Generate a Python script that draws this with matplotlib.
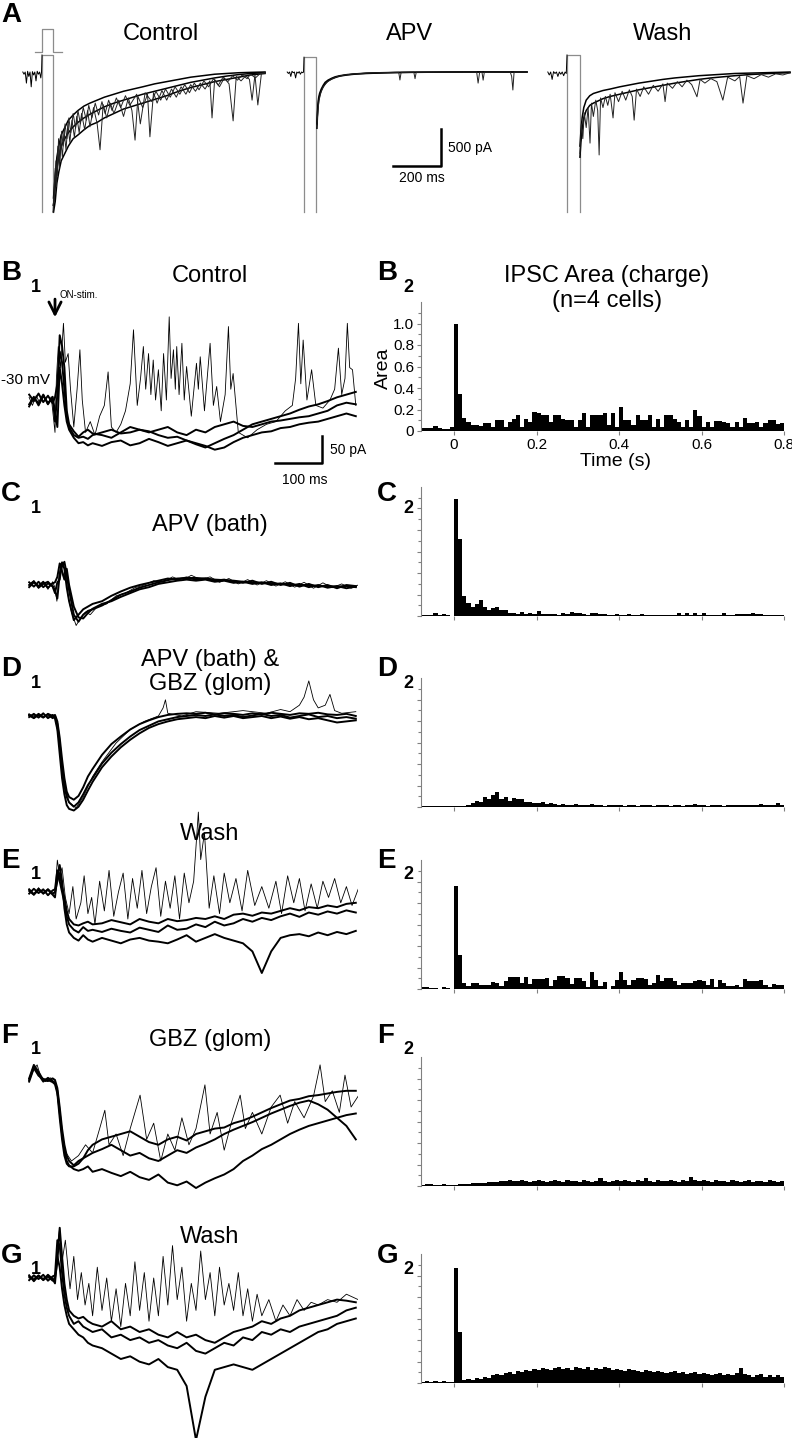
import matplotlib
matplotlib.use('Agg')
import matplotlib.pyplot as plt
import numpy as np

plt.rcParams['font.family'] = ['Liberation Sans', 'DejaVu Sans']

# ---------------- panel A: evoked currents (ms, pA) ----------------
ctrl_pre = [(-80, 0), (-75, -30), (-70, 0), (-65, -150), (-60, 10), (-55, -60), (-50, 0), (-45, -200),
            (-40, 5), (-35, -40), (-30, 0), (-25, -120), (-20, 10), (-15, -30), (-10, 0), (-5, -80),
            (-2, 0), (0, 230)]
ctrl_t = [48, 55, 62, 70, 80, 95, 110, 130, 150, 175, 200, 230, 260, 300, 340, 380, 420, 470, 520,
          570, 620, 670, 720, 770, 820, 870, 930]
ctrl_s1 = [-1890, -1750, -1500, -1350, -1200, -1100, -1000, -900, -850, -780, -720, -680, -620, -560,
           -500, -460, -420, -370, -320, -260, -210, -170, -130, -100, -70, -40, -20]
ctrl_s2 = [-1700, -1400, -1150, -1000, -850, -750, -650, -580, -520, -460, -420, -380, -340, -300,
           -260, -230, -200, -160, -130, -100, -70, -50, -30, -20, -10, -5, 0]
ctrl_s3 = [-1800, -1550, -1300, -1150, -1000, -900, -820, -740, -680, -620, -570, -520, -470, -420,
           -380, -340, -300, -260, -220, -180, -140, -110, -80, -55, -35, -20, -8]
ctrl_fast1 = [(46, -1890), (55, -1300), (60, -1550), (66, -1000), (72, -1300), (78, -900), (85, -1150),
              (92, -800), (100, -1050), (108, -700), (116, -950), (125, -650), (135, -880), (145, -600),
              (155, -820), (165, -560), (178, -780), (190, -520), (200, -740), (215, -480), (230, -700),
              (242, -1050), (255, -440), (270, -620), (285, -420), (300, -560), (320, -380), (340, -600),
              (360, -350), (375, -520), (388, -920), (400, -330), (420, -480), (440, -300), (450, -875),
              (465, -280), (480, -420), (500, -250), (520, -380), (540, -230), (560, -340), (580, -200),
              (600, -300), (620, -170), (640, -260), (660, -150), (680, -230), (700, -120), (709, -620),
              (720, -100), (740, -200), (760, -80), (780, -160), (797, -660), (810, -60), (830, -120),
              (850, -50), (865, -100), (876, -380), (888, -40), (900, -445), (915, -20), (930, -10)]
ctrl_fast2 = [(46, -1800), (52, -1700), (58, -1200), (64, -1400), (69, -900), (75, -1200), (82, -800),
              (88, -1000), (96, -700), (104, -900), (112, -620), (120, -820), (130, -560), (140, -760),
              (150, -520), (160, -700), (172, -480), (185, -650), (195, -450), (208, -620), (222, -420),
              (236, -580), (250, -400), (263, -560), (278, -380), (292, -520), (310, -350), (328, -480),
              (348, -320), (366, -450), (395, -300), (410, -700), (430, -280), (458, -400), (475, -260),
              (495, -380), (515, -230), (535, -340), (555, -200), (575, -300), (595, -170), (615, -280),
              (635, -150), (655, -240), (675, -120), (695, -200), (715, -90), (735, -180), (755, -70),
              (775, -130), (795, -50), (815, -110), (835, -40), (855, -90), (870, -30), (890, -80),
              (910, -20), (930, -15)]

apv_pre = [(-70, 0), (-65, -20), (-60, 0), (-55, -60), (-50, 10), (-45, -10), (-40, 0), (-35, -80),
           (-30, 0), (-25, -15), (-20, 5), (-15, -30), (-10, 0), (-5, -10), (-2, 0), (0, 200)]
apv_t = [54, 56, 58, 61, 65, 72, 80, 88, 100, 115, 130, 150, 180, 215, 260, 320, 380, 450, 520, 600,
         680, 760, 840, 930]
apv_s1 = [-760, -600, -480, -380, -320, -250, -200, -160, -120, -95, -75, -55, -40, -28, -20, -13, -8,
          -5, -3, -2, 0, 0, 0, 0]
apv_s2 = [-700, -560, -440, -350, -290, -230, -180, -140, -110, -85, -65, -50, -35, -25, -16, -10, -6,
          -3, -2, 0, 0, 2, 0, 0]
apv_fast = [(54, -720), (58, -520), (63, -380), (70, -280), (80, -200), (95, -140), (115, -95),
            (140, -60), (170, -40), (210, -25), (260, -15), (320, -8), (395, -5), (400, -108), (405, -5),
            (458, -3), (463, -90), (468, -3), (600, -2), (720, 0), (726, -150), (732, -10), (742, 0),
            (747, -110), (752, 0), (860, 0), (866, -60), (871, -243), (876, 0), (930, 0)]

wash_pre = [(-80, 0), (-74, -40), (-68, 0), (-62, -100), (-56, 5), (-50, -20), (-44, 0), (-38, -60),
            (-32, 0), (-26, -30), (-20, 0), (-14, -50), (-8, 0), (-3, -20), (0, 230)]
wash_t = [54, 58, 63, 70, 80, 95, 110, 130, 150, 180, 220, 260, 300, 350, 400, 450, 500, 550, 600, 650,
          700, 760, 820, 880, 930]
wash_s1 = [-1150, -950, -780, -620, -520, -450, -420, -390, -360, -330, -300, -270, -240, -210, -180,
           -150, -125, -100, -80, -65, -50, -35, -25, -15, -10]
wash_s2 = [-1000, -800, -620, -480, -380, -320, -290, -270, -250, -230, -200, -175, -150, -125, -100,
           -80, -65, -50, -40, -30, -20, -15, -10, -5, 0]
wash_fast = [(54, -1100), (60, -700), (66, -900), (72, -550), (80, -750), (88, -480), (96, -960),
             (102, -420), (110, -600), (120, -380), (128, -520), (134, -1120), (140, -350), (150, -480),
             (160, -330), (170, -450), (180, -300), (192, -620), (200, -280), (215, -400), (230, -260),
             (245, -380), (260, -240), (272, -330), (280, -650), (290, -230), (305, -330), (320, -200),
             (340, -300), (360, -180), (380, -260), (400, -160), (409, -400), (418, -150), (440, -220),
             (460, -130), (480, -200), (500, -110), (520, -170), (542, -335), (555, -100), (575, -150),
             (600, -90), (625, -130), (650, -380), (670, -70), (700, -120), (720, -60), (734, -420),
             (750, -50), (780, -90), (810, -35), (840, -70), (870, -25), (900, -40), (930, -10)]

# stimulus artifact (duration ms, top pA) per condition
art_dur = [46, 50, 54]
art_top = [230, 200, 230]
art_bot = -1890

# ---------------- panels B1-G1: spontaneous currents (ms, pA) ----------------
tb = [-55, -45, -35, -25, -15, -5, 0, 5, 10, 15, 20, 25, 30, 40, 50, 60, 70, 80, 100, 120, 140, 160,
      180, 200, 220, 240, 260, 280, 300, 320, 340, 360, 380, 400, 420, 440, 460, 480, 500, 520, 540,
      560, 580, 600, 620, 640]

b1_s1 = [-8, 6, -10, 8, -6, 4, -20, -50, 60, 30, -10, -40, -55, -70, -80, -78, -84, -80,
         -85, -78, -75, -84, -80, -72, -78, -85, -80, -75, -82, -88, -80, -72, -65, -55, -45, -40,
         -35, -30, -25, -18, -12, -8, -2, 5, 10, 15]
b1_s2 = [10, -2, 12, -4, 8, -6, 5, 30, 90, 70, 20, -30, -50, -65, -70, -68, -72, -65,
         -60, -55, -62, -60, -55, -58, -65, -70, -68, -75, -80, -85, -92, -88, -78, -70, -65, -60,
         -58, -52, -50, -45, -42, -40, -35, -30, -25, -30]
b1_s3 = [-12, 4, -6, 10, -8, 6, -40, 10, 120, 100, 60, -20, -45, -58, -68, -60, -55, -62,
         -65, -70, -60, -50, -55, -60, -55, -50, -60, -65, -55, -60, -50, -45, -40, -48, -50, -45,
         -40, -38, -35, -32, -30, -25, -20, -10, -5, -8]
b1_fast = [(-55, 5), (-48, -10), (-40, 8), (-32, -6), (-24, 10), (-16, -8), (-8, 6), (0, -60), (3, 40),
           (7, 99), (12, 60), (18, 142), (22, 70), (28, 86), (33, 20), (40, -50), (47, 20), (53, 93),
           (58, 0), (65, -60), (75, -40), (85, -65), (95, -30), (105, -10), (113, 52), (120, -50),
           (130, -60), (140, -45), (150, -20), (160, 30), (167, 130), (175, -10), (182, 40), (188, 99),
           (193, 20), (199, 86), (204, 10), (209, 74), (214, 0), (220, 56), (226, -20), (231, 86),
           (237, 0), (243, 154), (247, 40), (252, 93), (256, 20), (259, 99), (264, 10), (270, 105),
           (275, 0), (280, 62), (290, -30), (301, 68), (305, 20), (309, 80), (318, -20), (330, 105),
           (337, -10), (344, 25), (352, -40), (362, 10), (369, 136), (374, 20), (379, 49), (390, -60),
           (410, -70), (430, -55), (450, -45), (470, -40), (490, -20), (505, -10), (512, 40), (518, 142),
           (523, 30), (528, 111), (536, 0), (546, 56), (555, -10), (570, -15), (585, 0), (595, 20),
           (603, 96), (610, 10), (617, 40), (622, 142), (627, 60), (633, 56), (640, -10)]

c1_s1 = [5, -3, 6, -4, 3, -2, -10, -25, 20, 35, 43, 20, -10, -55, -68, -55, -48, -45,
         -38, -28, -18, -12, -5, 0, 5, 9, 12, 13, 13, 12, 10, 9, 8, 6, 5, 4,
         3, 2, 1, 0, 0, -2, -2, -3, -2, -4]
c1_s2 = [-4, 5, -2, 6, -5, 3, 5, 15, 40, 25, 10, 30, 0, -40, -60, -62, -52, -44,
         -35, -30, -22, -15, -8, -4, 2, 5, 8, 10, 8, 10, 6, 8, 4, 6, 2, 5,
         0, 3, -2, 2, -4, 0, -5, -2, -6, -3]
c1_s3 = [0, 7, -5, 2, 6, -3, -15, 5, 10, 42, 30, -5, -30, -65, -55, -45, -40, -35,
         -30, -20, -12, -5, 0, 4, 8, 12, 10, 14, 10, 12, 8, 10, 6, 4, 8, 2,
         6, 0, 4, -3, 2, -4, 0, -6, 0, -2]
c1_fast = [(-55, 0), (-45, 8), (-35, -6), (-25, 5), (-15, -8), (-5, 6), (0, -5), (4, -30), (8, 10),
           (12, 40), (18, 15), (22, 35), (28, -20), (35, -50), (45, -75), (55, -60), (65, -50), (75, -55),
           (90, -40), (110, -35), (130, -20), (150, -15), (170, -5), (190, 0), (210, 8), (230, 5),
           (250, 15), (270, 8), (290, 18), (310, 10), (330, 15), (350, 5), (370, 12), (390, 2), (410, 10),
           (430, 0), (450, 8), (470, -2), (490, 6), (510, -4), (530, 5), (550, -6), (570, 4), (590, -5),
           (610, 2), (630, -6), (645, 0)]

d1_s1 = [3, -3, 4, -2, 3, -4, 0, -15, -50, -95, -130, -150, -160, -168, -160, -145, -128, -115,
         -88, -68, -52, -38, -26, -18, -10, -6, -2, 0, 2, 0, 3, 0, 2, -2, 1, 4,
         0, 2, -3, 0, 3, -2, 0, -4, -2, -5]
d1_s2 = [-2, 4, -3, 5, -4, 2, -5, -25, -70, -115, -145, -165, -172, -175, -168, -155, -138, -122,
         -95, -75, -58, -44, -32, -22, -15, -10, -6, -4, -2, -4, 0, -3, 0, -4, -2, 0,
         -4, -1, -5, -2, -6, -4, -8, -12, -10, -8]
d1_s3 = [1, -4, 2, -3, 4, 0, 2, -10, -40, -80, -115, -140, -150, -155, -148, -132, -112, -98,
         -72, -52, -38, -25, -15, -8, -2, 2, 4, 5, 4, 6, 3, 5, 4, 2, 5, 3,
         6, 4, 2, 5, 4, 6, 3, 2, 4, 0]
d1_fast = [(-55, 2), (-5, -2), (0, 0), (10, -55), (20, -125), (30, -160), (45, -170), (60, -150),
           (80, -112), (100, -85), (130, -50), (160, -25), (190, -10), (220, 0), (230, 15), (235, 30),
           (240, 5), (270, 0), (300, 8), (350, 5), (400, 10), (450, 5), (480, 12), (500, 8), (520, 20),
           (530, 35), (540, 65), (550, 30), (560, 15), (575, 20), (585, 40), (595, 10), (610, 5), (640, 8)]

e1_s1 = [5, -4, 6, -3, 4, -5, -10, 30, 50, 20, -30, -60, -75, -85, -90, -80, -88, -92,
         -85, -90, -95, -88, -85, -90, -92, -95, -88, -80, -92, -85, -78, -85, -90, -95, -110, -150,
         -110, -85, -80, -78, -82, -75, -80, -74, -78, -72]
e1_s2 = [-3, 6, -2, 5, -6, 3, 5, 40, 20, 0, -20, -45, -60, -70, -75, -65, -72, -70,
         -74, -68, -72, -75, -66, -70, -74, -62, -70, -68, -60, -65, -55, -62, -58, -50, -55, -48,
         -52, -45, -40, -46, -38, -42, -36, -40, -34, -38]
e1_s3 = [2, -5, 4, -2, 5, -3, 0, 20, 35, 10, -10, -35, -50, -60, -62, -58, -55, -60,
         -58, -52, -56, -60, -50, -55, -58, -50, -54, -52, -48, -50, -45, -50, -42, -40, -44, -38,
         -40, -35, -30, -34, -28, -30, -25, -28, -22, -20]
e1_fast = [(-55, 5), (-45, -6), (-35, 8), (-25, -4), (-15, 6), (-5, -5), (0, 0), (5, 59), (10, 30),
           (15, 45), (22, -10), (30, -40), (38, 10), (45, -50), (55, -20), (62, 30), (70, -40), (78, -10),
           (85, -60), (95, 20), (105, -35), (115, 40), (125, -45), (135, 0), (145, 35), (155, -50),
           (165, 25), (175, -30), (185, 40), (195, -40), (205, 10), (215, 45), (225, -45), (235, 20),
           (245, -30), (255, 30), (265, -50), (275, 35), (285, -20), (295, 20), (305, 148), (310, 60),
           (318, 110), (328, -30), (338, 30), (350, -40), (360, 35), (372, -20), (385, 25), (398, -35),
           (410, 40), (425, -25), (440, 10), (455, -30), (470, 20), (482, -40), (495, 30), (508, -20),
           (520, 25), (532, -35), (545, 15), (558, -30), (570, 20), (582, -10), (595, 25), (608, -20),
           (620, 10), (632, -25), (645, 5)]

f1_s1 = [0, 25, 10, -3, 4, -2, -5, -20, -60, -100, -130, -150, -158, -165, -168, -165, -160, -170,
         -165, -172, -178, -170, -180, -185, -175, -190, -195, -188, -200, -190, -182, -175, -165, -150,
         -140, -128, -120, -110, -100, -92, -85, -80, -75, -70, -65, -62]
f1_s2 = [3, 28, 15, 0, -2, 3, 0, -15, -50, -90, -120, -140, -150, -158, -150, -145, -140, -135,
         -128, -120, -130, -140, -135, -145, -150, -140, -130, -135, -125, -118, -110, -100, -92, -85,
         -78, -70, -62, -55, -48, -42, -38, -45, -55, -70, -85, -110]
f1_s3 = [-3, 22, 8, 2, 0, -4, -8, -25, -70, -110, -140, -155, -160, -160, -155, -145, -130, -120,
         -110, -105, -100, -95, -105, -115, -120, -110, -105, -112, -100, -95, -90, -88, -80, -75,
         -68, -60, -52, -45, -38, -35, -30, -28, -25, -22, -20, -20]
f1_fast = [(-55, 0), (-45, 20), (-38, 28), (-30, 5), (-20, -3), (-10, 4), (0, 0), (10, -60), (20, -130),
           (35, -150), (50, -140), (65, -120), (80, -135), (95, -90), (106, -56), (115, -120), (130, -100),
           (145, -140), (160, -90), (181, -28), (195, -110), (210, -80), (225, -150), (240, -100),
           (255, -130), (270, -70), (285, -120), (300, -90), (319, -9), (330, -100), (345, -60), (360, -130),
           (375, -80), (394, -28), (405, -90), (420, -60), (440, -100), (460, -50), (479, -28), (495, -80),
           (510, -40), (530, -70), (550, -30), (564, 28), (575, -40), (590, -20), (605, -60), (617, 9),
           (630, -50), (645, -30)]

g1_s1 = [5, -6, 4, -3, 6, -2, -10, 40, 20, -20, -50, -70, -85, -95, -105, -110, -120, -125,
         -130, -140, -150, -145, -155, -160, -150, -165, -170, -200, -300, -220, -170, -165, -160, -165,
         -170, -160, -150, -140, -130, -120, -110, -100, -95, -85, -80, -75]
g1_s2 = [-4, 5, -2, 6, -5, 3, 5, 70, 60, 10, -30, -55, -70, -85, -80, -90, -95, -100,
         -95, -110, -105, -115, -110, -120, -115, -125, -130, -120, -135, -140, -130, -120, -125, -110,
         -115, -100, -105, -95, -100, -90, -85, -80, -75, -70, -60, -55]
g1_s3 = [2, -3, 5, -4, 3, -5, 0, 30, 93, 40, -10, -40, -60, -70, -75, -72, -80, -85,
         -90, -80, -95, -90, -100, -95, -105, -110, -100, -110, -105, -115, -120, -110, -100, -95,
         -90, -80, -85, -75, -70, -60, -55, -50, -45, -40, -42, -45]
g1_fast = [(-55, 0), (0, 0), (5, 60), (10, 93), (15, 30), (22, 70), (32, -20), (40, 40), (48, -40),
           (56, 10), (64, -50), (72, -10), (80, -70), (90, 20), (100, -60), (110, 0), (120, -80),
           (130, -20), (140, -90), (150, -10), (160, -70), (170, 30), (180, -60), (190, 10), (200, -80),
           (210, 0), (220, -70), (230, 40), (240, -50), (250, 60), (260, -40), (270, 20), (280, -80),
           (290, -10), (300, -60), (310, 50), (320, -40), (330, 10), (340, -70), (350, 20), (360, -50),
           (370, -10), (380, -60), (390, 10), (400, -70), (410, -20), (420, -80), (430, -30), (440, -70),
           (455, -40), (470, -80), (485, -50), (500, -70), (515, -40), (530, -60), (545, -45), (560, -50),
           (580, -40), (600, -45), (620, -30), (645, -40)]

# ---------------- panels B2-G2: IPSC area histograms (10 ms bins) ----------------
bin_left = np.round(np.arange(-0.08, 0.795, 0.01), 3)
b2_area = [0.025, 0.03, 0.03, 0.05, 0.025, 0.015, 0.015, 0.04,
           1.0, 0.34, 0.12, 0.08, 0.055, 0.055, 0.05, 0.075, 0.075, 0.04,
           0.1, 0.1, 0.04, 0.08, 0.11, 0.145, 0.04, 0.11, 0.08, 0.18,
           0.17, 0.145, 0.145, 0.08, 0.15, 0.145, 0.11, 0.1, 0.1, 0.04,
           0.1, 0.17, 0.04, 0.145, 0.145, 0.145, 0.165, 0.055, 0.17, 0.04,
           0.22, 0.1, 0.1, 0.055, 0.15, 0.1, 0.1, 0.145, 0.04, 0.11,
           0.04, 0.145, 0.145, 0.11, 0.08, 0.04, 0.1, 0.04, 0.195, 0.135,
           0.04, 0.085, 0.04, 0.09, 0.09, 0.08, 0.07, 0.04, 0.08, 0.04,
           0.12, 0.07, 0.07, 0.08, 0.04, 0.07, 0.1, 0.1, 0.065, 0.07]
c2_area = [0.01, 0.01, 0.01, 0.03, 0.005, 0.02, 0.01, 0.0,
           1.09, 0.72, 0.19, 0.12, 0.08, 0.11, 0.145, 0.08, 0.055, 0.07,
           0.085, 0.06, 0.06, 0.03, 0.03, 0.015, 0.04, 0.015, 0.025, 0.015,
           0.045, 0.015, 0.015, 0.015, 0.015, 0.01, 0.025, 0.015, 0.035, 0.03,
           0.025, 0.015, 0.01, 0.025, 0.025, 0.015, 0.02, 0.01, 0.01, 0.02,
           0.01, 0.01, 0.02, 0.01, 0.01, 0.02, 0.01, 0.01, 0.01, 0.01,
           0.01, 0.01, 0.01, 0.005, 0.025, 0.01, 0.025, 0.01, 0.03, 0.01,
           0.03, 0.01, 0.01, 0.01, 0.01, 0.025, 0.01, 0.01, 0.015, 0.015,
           0.02, 0.02, 0.03, 0.02, 0.015, 0.01, 0.01, 0.005, 0.01, 0.01]
d2_area = [0.005, 0.005, 0.005, 0.005, 0.005, 0.005, 0.005, 0.005,
           0.01, 0.01, 0.01, 0.02, 0.04, 0.06, 0.05, 0.09, 0.07, 0.11,
           0.14, 0.07, 0.09, 0.06, 0.08, 0.07, 0.07, 0.05, 0.05, 0.04,
           0.04, 0.05, 0.03, 0.04, 0.03, 0.02, 0.03, 0.02, 0.02, 0.03,
           0.02, 0.02, 0.02, 0.03, 0.02, 0.02, 0.01, 0.02, 0.02, 0.02,
           0.02, 0.01, 0.02, 0.02, 0.01, 0.02, 0.02, 0.02, 0.01, 0.02,
           0.02, 0.02, 0.01, 0.02, 0.02, 0.01, 0.02, 0.02, 0.03, 0.02,
           0.02, 0.01, 0.02, 0.02, 0.02, 0.01, 0.02, 0.02, 0.02, 0.02,
           0.02, 0.02, 0.02, 0.02, 0.03, 0.02, 0.02, 0.02, 0.04, 0.02]
e2_area = [0.015, 0.015, 0.01, 0.005, 0.0, 0.015, 0.005, 0.0,
           0.96, 0.32, 0.06, 0.03, 0.055, 0.055, 0.04, 0.04, 0.04, 0.065,
           0.055, 0.03, 0.07, 0.11, 0.11, 0.11, 0.055, 0.11, 0.05, 0.09,
           0.09, 0.09, 0.1, 0.03, 0.08, 0.12, 0.12, 0.1, 0.05, 0.1,
           0.1, 0.07, 0.02, 0.16, 0.08, 0.03, 0.065, 0.0, 0.03, 0.085,
           0.16, 0.08, 0.04, 0.08, 0.1, 0.1, 0.09, 0.04, 0.06, 0.13,
           0.07, 0.1, 0.1, 0.07, 0.04, 0.06, 0.06, 0.06, 0.07, 0.08,
           0.07, 0.04, 0.09, 0.02, 0.08, 0.06, 0.03, 0.03, 0.04, 0.02,
           0.09, 0.07, 0.07, 0.07, 0.08, 0.04, 0.02, 0.05, 0.04, 0.04]
f2_area = [0.01, 0.015, 0.015, 0.01, 0.01, 0.015, 0.01, 0.01,
           0.01, 0.015, 0.02, 0.02, 0.025, 0.03, 0.03, 0.03, 0.035, 0.04,
           0.04, 0.05, 0.05, 0.06, 0.05, 0.05, 0.06, 0.05, 0.04, 0.05,
           0.06, 0.05, 0.04, 0.05, 0.06, 0.05, 0.04, 0.06, 0.05, 0.05,
           0.04, 0.06, 0.05, 0.04, 0.05, 0.07, 0.05, 0.04, 0.05, 0.06,
           0.05, 0.06, 0.05, 0.04, 0.06, 0.05, 0.07, 0.05, 0.04, 0.06,
           0.05, 0.05, 0.06, 0.05, 0.04, 0.06, 0.05, 0.08, 0.06, 0.05,
           0.06, 0.05, 0.04, 0.06, 0.05, 0.05, 0.04, 0.06, 0.05, 0.04,
           0.05, 0.06, 0.04, 0.05, 0.05, 0.04, 0.06, 0.05, 0.04, 0.05]
g2_area = [0.01, 0.015, 0.01, 0.02, 0.01, 0.015, 0.01, 0.01,
           1.07, 0.47, 0.03, 0.04, 0.03, 0.05, 0.04, 0.06, 0.05, 0.07,
           0.08, 0.07, 0.09, 0.1, 0.08, 0.11, 0.1, 0.12, 0.11, 0.13,
           0.12, 0.14, 0.13, 0.12, 0.14, 0.15, 0.13, 0.14, 0.12, 0.15,
           0.14, 0.13, 0.15, 0.12, 0.14, 0.13, 0.15, 0.14, 0.12, 0.13,
           0.12, 0.11, 0.13, 0.12, 0.11, 0.1, 0.12, 0.11, 0.1, 0.11,
           0.1, 0.09, 0.1, 0.11, 0.09, 0.1, 0.08, 0.09, 0.1, 0.08,
           0.09, 0.08, 0.07, 0.08, 0.09, 0.07, 0.08, 0.07, 0.09, 0.14,
           0.08, 0.07, 0.06, 0.07, 0.08, 0.06, 0.07, 0.06, 0.07, 0.06]

# ---------------- layout helpers (pixel coords) ----------------
W, H = 792, 1445
fig = plt.figure(figsize=(W / 100, H / 100), dpi=100)
ART = '#8c8c8c'


def px_axes(x0, y0, x1, y1):
    return fig.add_axes([x0 / W, 1 - y1 / H, (x1 - x0) / W, (y1 - y0) / H])


def ftext(x, y, s, **kw):
    fig.text(x / W, 1 - y / H, s, **kw)


def xy(pairs):
    a = np.array(pairs, dtype=float)
    return a[:, 0], a[:, 1]


# panel A: 4.17 ms/px, 13.5 pA/px, baseline at y=72
A_MS, A_PA = 4.17, 13.5


def panel_a(stim_x, k, pre, t, slows, fasts):
    ax = px_axes(stim_x - 85 / A_MS, 20, stim_x + 935 / A_MS, 222)
    ax.set_xlim(-85, 935)
    ax.set_ylim(-150 * A_PA, 52 * A_PA)
    ax.axis('off')
    ax.plot([0, 0, art_dur[k], art_dur[k]], [art_bot, art_top[k], art_top[k], art_bot],
            color=ART, lw=0.9)
    ax.plot(*xy(pre), color='k', lw=0.7)
    for s in slows:
        ax.plot(t, s, color='k', lw=1.1)
    for f in fasts:
        ax.plot(*xy(f), color='#222222', lw=0.7)
    return ax


ax_c = panel_a(42, 0, ctrl_pre, ctrl_t, [ctrl_s1, ctrl_s2, ctrl_s3], [ctrl_fast1, ctrl_fast2])
ax_c.plot([-29, 0, 0, 46, 46, 83], [270, 270, 580, 580, 270, 270], color=ART, lw=0.9, clip_on=False)
ax_apv = panel_a(304, 1, apv_pre, apv_t, [apv_s1, apv_s2], [apv_fast])
panel_a(567, 2, wash_pre, wash_t, [wash_s1, wash_s2], [wash_fast])

# scale bar 200 ms / 500 pA
ax_apv.plot([371, 571, 571], [-1269, -1269, -769], color='k', lw=1.8, clip_on=False)
ax_apv.text(600, -1030, '500 pA', fontsize=10, va='center')
ax_apv.text(395, -1335, '200 ms', fontsize=10, va='top')

ftext(1, 15, 'A', fontsize=20, fontweight='bold', va='center')
for x, s in [(161, 'Control'), (410, 'APV'), (663, 'Wash')]:
    ftext(x, 34, s, fontsize=17, ha='center', va='center')

# left trace panels: 2.128 ms/px, 1.852 pA/px
L_MS, L_PA = 100 / 47, 50 / 27


def trace_panel(base_y, slows, fast):
    ax = px_axes(28, base_y - 160, 358, base_y + 160)
    ax.set_xlim(-27 * L_MS, 303 * L_MS)
    ax.set_ylim(-160 * L_PA, 160 * L_PA)
    ax.axis('off')
    for s in slows:
        ax.plot(tb, s, color='k', lw=1.4)
    ax.plot(*xy(fast), color='k', lw=0.6)
    return ax


ax_b1 = trace_panel(400, [b1_s1, b1_s2, b1_s3], b1_fast)
trace_panel(585, [c1_s1, c1_s2, c1_s3], c1_fast)
trace_panel(716, [d1_s1, d1_s2, d1_s3], d1_fast)
trace_panel(892, [e1_s1, e1_s2, e1_s3], e1_fast)
trace_panel(1080, [f1_s1, f1_s2, f1_s3], f1_fast)
trace_panel(1278, [g1_s1, g1_s2, g1_s3], g1_fast)

# B1 annotations
ax_b1.annotate('', xy=(0, 148), xytext=(0, 192),
               arrowprops=dict(arrowstyle='->', lw=2, color='k', mutation_scale=22))
ax_b1.text(10, 195, 'ON-stim.', fontsize=7, va='center')
ax_b1.plot([468, 568, 568], [-117, -117, -67], color='k', lw=1.8)
ax_b1.text(585, -92, '50 pA', fontsize=10, va='center')
ax_b1.text(483, -135, '100 ms', fontsize=10, va='top')
ftext(1, 380, '-30 mV', fontsize=11, va='center')

# histogram panels
HIST_TOPS = [302, 487, 678, 860, 1057, 1254]
areas = [b2_area, c2_area, d2_area, e2_area, f2_area, g2_area]
for i, (top, vals) in enumerate(zip(HIST_TOPS, areas)):
    ax = px_axes(421, top, 784, top + 129)
    ax.bar(bin_left, vals, width=0.01, align='edge', color='k', linewidth=0)
    ax.set_xlim(-0.08, 0.8)
    ax.set_ylim(0, 1.2)
    for side in ['top', 'right', 'bottom']:
        ax.spines[side].set_visible(False)
    ax.spines['left'].set_color('#808080')
    ax.set_yticks([0, 0.2, 0.4, 0.6, 0.8, 1.0])
    ax.set_yticks(np.arange(0.1, 1.2, 0.2), minor=True)
    ax.set_xticks([0, 0.2, 0.4, 0.6, 0.8])
    ax.tick_params(which='both', colors='#808080', labelcolor='k', length=3, width=0.8,
                   labelsize=11, pad=2)
    ax.tick_params(which='minor', length=2)
    if i == 0:
        ax.set_yticklabels(['0', '0.2', '0.4', '0.6', '0.8', '1.0'])
        ax.set_xticklabels(['0', '0.2', '0.4', '0.6', '0.8'])
    else:
        ax.tick_params(labelleft=False, labelbottom=False)

ftext(607, 276, 'IPSC Area (charge)', fontsize=17, ha='center', va='center')
ftext(607, 301, '(n=4 cells)', fontsize=17, ha='center', va='center')
ftext(383, 368, 'Area', fontsize=14, rotation=90, ha='center', va='center')
ftext(615, 462, 'Time (s)', fontsize=14, ha='center', va='center')

# panel letters and titles
LABEL_Y = [273, 494, 669, 861, 1036, 1256]
for letter, y in zip('BCDEFG', LABEL_Y):
    ftext(1, y, letter, fontsize=20, fontweight='bold', va='center')
    ftext(31, y + 14, '1', fontsize=13, fontweight='bold', va='center')
    ftext(377, y, letter, fontsize=20, fontweight='bold', va='center')
    ftext(403, y + 14, '2', fontsize=13, fontweight='bold', va='center')

for y, s in [(276, 'Control'), (525, 'APV (bath)'), (660, 'APV (bath) &'), (684, 'GBZ (glom)'),
             (834, 'Wash'), (1040, 'GBZ (glom)'), (1237, 'Wash')]:
    ftext(210, y, s, fontsize=17, ha='center', va='center')

fig.savefig('out.png', dpi=100)
